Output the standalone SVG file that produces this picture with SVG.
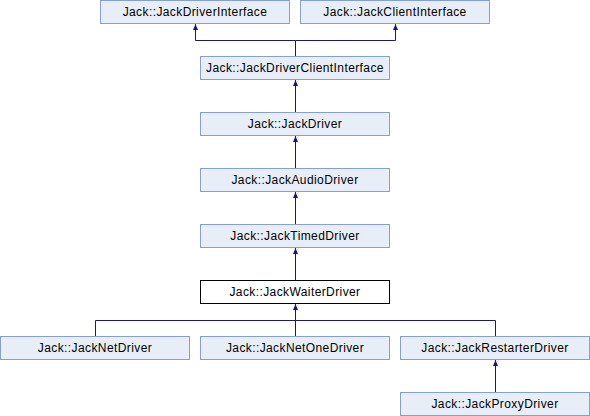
<svg xmlns="http://www.w3.org/2000/svg" width="590" height="416" viewBox="0 0 590 416">
<style>
.n rect{fill:#E8EEF7;stroke:#84A0D0;stroke-width:1}
.n.cur rect{fill:#FFFFFF;stroke:#000000}
.n text{font-family:"Liberation Sans",Arial,sans-serif;font-size:12px;letter-spacing:0.4px;fill:#000000;text-anchor:middle}
.e{fill:none;stroke:#191970;stroke-width:1}
</style>
<defs>
<marker id="ah" markerWidth="6" markerHeight="6" refX="6" refY="3" orient="auto" markerUnits="userSpaceOnUse">
<path d="M0,0.5 L6,3 L0,5.5 Z" fill="#191970"/>
</marker>
</defs>
<g id="connectors">
<path class="e" d="M295.5,56 V40.5 H195.5 V24" marker-end="url(#ah)"/>
<path class="e" d="M295.5,40.5 H395.5 V24" marker-end="url(#ah)"/>
<path class="e" d="M295.5,112 V80" marker-end="url(#ah)"/>
<path class="e" d="M295.5,168 V136" marker-end="url(#ah)"/>
<path class="e" d="M295.5,224 V192" marker-end="url(#ah)"/>
<path class="e" d="M295.5,280 V248" marker-end="url(#ah)"/>
<path class="e" d="M295.5,336 V304" marker-end="url(#ah)"/>
<path class="e" d="M95.5,336 V320.5 H495.5 V336"/>
<path class="e" d="M495.5,392 V360" marker-end="url(#ah)"/>
</g>
<g id="JackDriverInterface" class="n"><rect x="100.5" y="0.5" width="189" height="23"/><text x="195" y="16">Jack::JackDriverInterface</text></g>
<g id="JackClientInterface" class="n"><rect x="300.5" y="0.5" width="189" height="23"/><text x="395" y="16">Jack::JackClientInterface</text></g>
<g id="JackDriverClientInterface" class="n"><rect x="200.5" y="56.5" width="189" height="23"/><text x="295" y="72">Jack::JackDriverClientInterface</text></g>
<g id="JackDriver" class="n"><rect x="200.5" y="112.5" width="189" height="23"/><text x="295" y="128">Jack::JackDriver</text></g>
<g id="JackAudioDriver" class="n"><rect x="200.5" y="168.5" width="189" height="23"/><text x="295" y="184">Jack::JackAudioDriver</text></g>
<g id="JackTimedDriver" class="n"><rect x="200.5" y="224.5" width="189" height="23"/><text x="295" y="240">Jack::JackTimedDriver</text></g>
<g id="JackWaiterDriver" class="n cur"><rect x="200.5" y="280.5" width="189" height="23"/><text x="295" y="296">Jack::JackWaiterDriver</text></g>
<g id="JackNetDriver" class="n"><rect x="0.5" y="336.5" width="189" height="23"/><text x="95" y="352">Jack::JackNetDriver</text></g>
<g id="JackNetOneDriver" class="n"><rect x="200.5" y="336.5" width="189" height="23"/><text x="295" y="352">Jack::JackNetOneDriver</text></g>
<g id="JackRestarterDriver" class="n"><rect x="400.5" y="336.5" width="189" height="23"/><text x="495" y="352">Jack::JackRestarterDriver</text></g>
<g id="JackProxyDriver" class="n"><rect x="400.5" y="392.5" width="189" height="23"/><text x="495" y="408">Jack::JackProxyDriver</text></g>
</svg>
